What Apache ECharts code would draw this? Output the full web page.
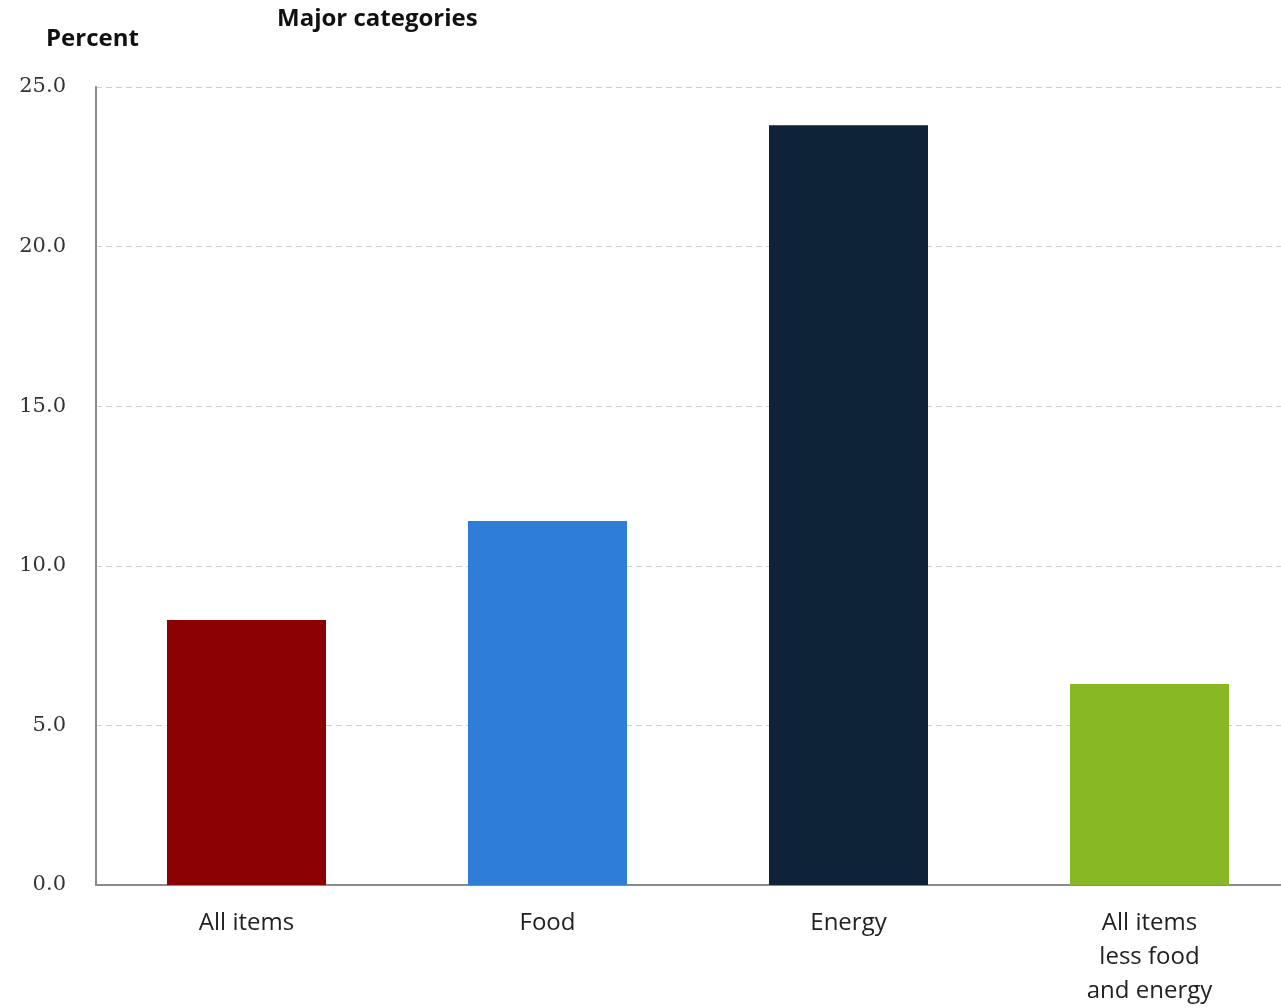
<!DOCTYPE html>
<html><head><meta charset="utf-8">
<script src="https://cdn.jsdelivr.net/npm/echarts@6/dist/echarts.min.js"></script>
<style>html,body{margin:0;padding:0;background:#fff;overflow:hidden}#c{width:1300px;height:1008px}</style>
</head><body><div id="c"></div>
<script>
const categories = ['All items', 'Food', 'Energy', 'All items\nless food\nand energy'];
const values = [8.3, 11.4, 23.8, 6.3];
const barColors = ['#8b0000', '#2e7dd7', '#0e2238', '#88b823'];
const yTicks = { min: 0, max: 25, interval: 5 };

const chart = echarts.init(document.getElementById('c'), null, { renderer: 'canvas' });
chart.setOption({
  animation: false,
  backgroundColor: '#ffffff',
  title: [
    { text: 'Major categories', left: 272, top: 2,
      textStyle: { fontFamily: 'Open Sans', fontWeight: 'bold', fontSize: 24, color: '#111' } },
    { text: 'Percent', left: 41, top: 22,
      textStyle: { fontFamily: 'Open Sans', fontWeight: 'bold', fontSize: 24, color: '#111' } }
  ],
  grid: { left: 96, right: 0, top: 87, bottom: 117, containLabel: false },
  xAxis: {
    type: 'category', data: categories,
    axisLine: { lineStyle: { color: '#8a8a8a', width: 2 } },
    axisTick: { show: false },
    axisLabel: { fontFamily: 'Open Sans', fontSize: 24, color: '#222', lineHeight: 34, margin: 21 }
  },
  yAxis: {
    type: 'value', min: yTicks.min, max: yTicks.max, interval: yTicks.interval,
    axisLine: { show: true, lineStyle: { color: '#8a8a8a', width: 2 } },
    axisTick: { show: false },
    axisLabel: { fontFamily: 'DejaVu Serif', fontSize: 21, color: '#333', margin: 30,
      formatter: v => v.toFixed(1) },
    splitLine: { lineStyle: { color: '#cfcfcf', type: [6, 4], width: 1 } }
  },
  series: [{
    type: 'bar', data: values.map((v, i) => ({ value: v, itemStyle: { color: barColors[i] } })),
    barWidth: 159
  }]
});
</script></body></html>
